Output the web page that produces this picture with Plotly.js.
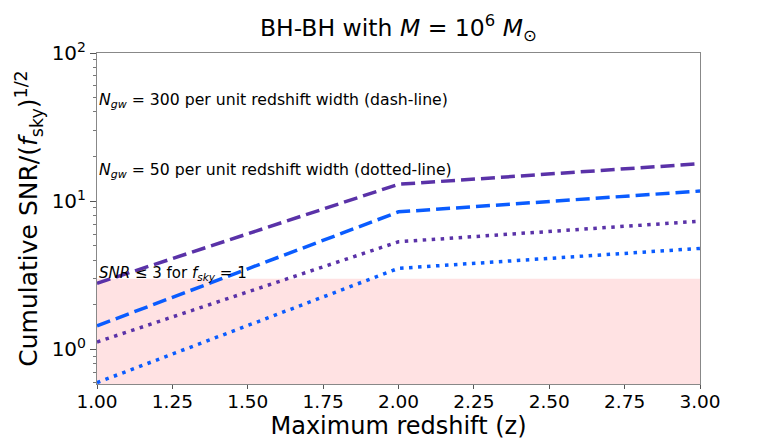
<!DOCTYPE html>
<html>
<head>
<meta charset="utf-8">
<script src="https://cdn.plot.ly/plotly-3.0.1.min.js"></script>
<style>body{margin:0;background:#fff}#plot{width:778px;height:440px}</style>
</head>
<body>
<div id="plot"></div>
<script>
// maximum redshift
var zmax = [1.0, 2.0, 3.0];
// cumulative SNR / sqrt(f_sky)
var snr300Heavy = [2.79, 13.0, 17.9];   // purple dashed
var snr300Light = [1.44, 8.47, 11.7];   // blue dashed
var snr50Heavy = [1.12, 5.32, 7.33];    // purple dotted
var snr50Light = [0.596, 3.52, 4.80];   // blue dotted
var snrThreshold = 3;
var xTicks = [1.0, 1.25, 1.5, 1.75, 2.0, 2.25, 2.5, 2.75, 3.0];
var yTicks = [1, 10, 100];
var yTickText = ['10<sup>0</sup>', '10<sup>1</sup>', '10<sup>2</sup>'];

// minor log ticks 2..9 in each decade
var yMinor = [];
[0.1, 1, 10].forEach(function (d) {
  for (var k = 2; k <= 9; k++) yMinor.push(k * d);
});

var purple = '#5a32a8';
var blue = '#0a5cff';

var band = {
  x: [zmax[0], zmax[zmax.length - 1], zmax[zmax.length - 1], zmax[0]],
  y: [0.1, 0.1, snrThreshold, snrThreshold],
  type: 'scatter', mode: 'lines', fill: 'toself',
  fillcolor: '#ffe2e3', line: {width: 0}, hoverinfo: 'skip'
};

function series(y, color, dash) {
  return {x: zmax, y: y, type: 'scatter', mode: 'lines',
    line: {color: color, width: 3.5, dash: dash}};
}

var data = [
  band,
  series(snr300Heavy, purple, '14px,6px'),
  series(snr300Light, blue, '14px,6px'),
  series(snr50Heavy, purple, '3.5px,5.5px'),
  series(snr50Light, blue, '3.5px,5.5px')
];

var font = {family: 'DejaVu Sans, sans-serif', color: '#000'};

var layout = {
  width: 778, height: 440,
  margin: {l: 97, r: 78, t: 53, b: 56},
  showlegend: false,
  paper_bgcolor: '#fff', plot_bgcolor: '#fff',
  font: font,
  title: {
    text: 'BH-BH with <i>M</i> = 10<sup>6</sup> <i>M</i><sub>⊙</sub>',
    font: {family: font.family, size: 23.5, color: '#000'},
    x: 0.512, xanchor: 'center', y: 0.955, yanchor: 'top'
  },
  xaxis: {
    range: [1, 3],
    tickvals: xTicks, tickformat: '.2f',
    tickfont: {size: 18.5},
    ticks: 'outside', ticklen: 4, tickcolor: '#555',
    ticklabelstandoff: -3,
    showgrid: false, zeroline: false,
    showline: true, mirror: true, linecolor: '#888', linewidth: 1,
    title: {text: 'Maximum redshift (z)', font: {size: 24}, standoff: 4}
  },
  yaxis: {
    type: 'log', range: [-0.234, 2],
    tickvals: yTicks, ticktext: yTickText,
    tickfont: {size: 20},
    ticks: 'outside', ticklen: 6, tickcolor: '#555',
    minor: {ticks: 'outside', ticklen: 3, tickcolor: '#777', tickmode: 'array', tickvals: yMinor, showgrid: false},
    showgrid: false, zeroline: false,
    showline: true, mirror: true, linecolor: '#888', linewidth: 1,
    title: {text: 'Cumulative SNR/(<i>f</i><sub>sky</sub>)<sup>1/2</sup>', font: {size: 25}, standoff: 6}
  },
  annotations: [
    {xref: 'x', yref: 'y', x: 1, y: 1.681, xanchor: 'left', yanchor: 'middle', showarrow: false,
     text: '<i>N<sub>gw</sub></i> = 300 per unit redshift width (dash-line)', font: {size: 15.7}},
    {xref: 'x', yref: 'y', x: 1, y: 1.208, xanchor: 'left', yanchor: 'middle', showarrow: false,
     text: '<i>N<sub>gw</sub></i> = 50 per unit redshift width (dotted-line)', font: {size: 15.7}},
    {xref: 'x', yref: 'y', x: 1, y: 0.515, xanchor: 'left', yanchor: 'middle', showarrow: false,
     text: '<i>SNR</i> ≤ 3 for <i>f<sub>sky</sub></i> = 1', font: {size: 15}}
  ]
};

Plotly.newPlot('plot', data, layout, {displayModeBar: false, staticPlot: true});
</script>
</body>
</html>
